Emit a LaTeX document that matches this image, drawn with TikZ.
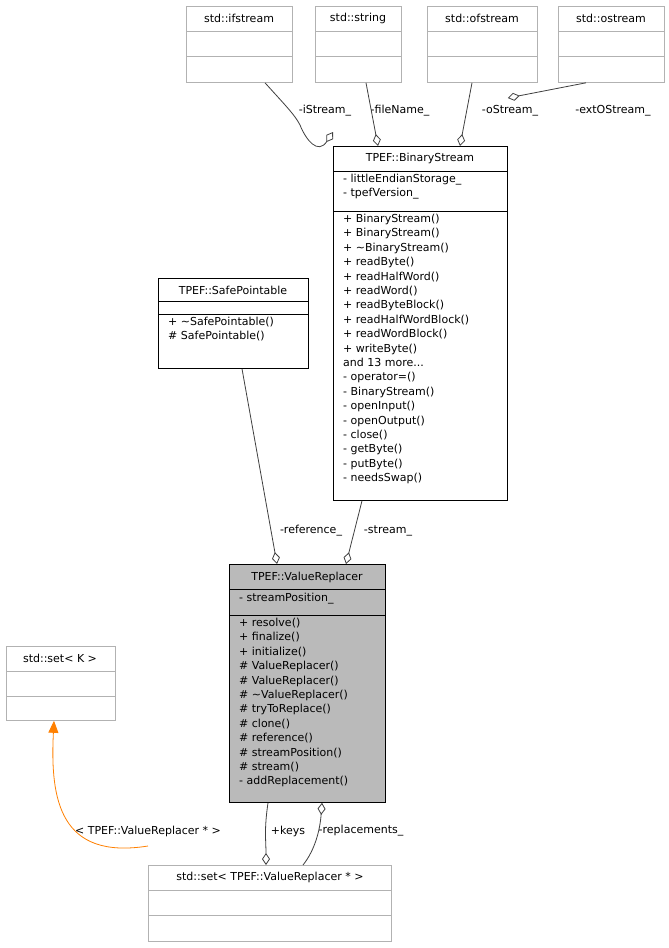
\documentclass[tikz,border=0pt]{standalone}
\usepackage{fontspec}
\setmainfont{DejaVu Sans}
\usetikzlibrary{arrows.meta}
\begin{document}
\begin{tikzpicture}[x=1pt,y=-1pt,
  box/.style={draw=#1,anchor=north west,inner sep=0,line width=0.8pt},
  txt/.style={anchor=north west,inner sep=0,align=left,font=\fontsize{11}{14.4}\selectfont,text depth=0pt},
  ttl/.style={anchor=center,inner sep=0,font=\fontsize{11}{14.4}\selectfont},
  edge/.style={draw=black!75,line width=0.8pt},
  lab/.style={font=\fontsize{11}{13}\selectfont,inner sep=1pt},
  dia/.style={-{Diamond[open,length=12pt,width=8pt,line width=0.8pt]}}]
\useasboundingbox[fill=white] (0,0) rectangle (669,948);
% std boxes top
\foreach \n/\x/\w/\t in {ifs/186/106/std::ifstream, str/315/86/std::string, ofs/427/110/std::ofstream, ost/558/106/std::ostream}{
  \node[box=black!30,minimum width=\w pt,minimum height=76pt] (\n) at (\x,6) {};
  \draw[black!30,line width=0.8pt] (\x,31)--++(\w,0) (\x,56)--++(\w,0);
  \node[ttl] at (\x+\w/2,18) {\t};
}
% BinaryStream
\node[box=black,minimum width=174pt,minimum height=354pt] (bs) at (333,146) {};
\draw[line width=0.8pt] (333,171)--(507,171) (333,211)--(507,211);
\node[ttl] at (420,158) {TPEF::BinaryStream};
\node[txt] at (343,174) {- littleEndianStorage\_\\- tpefVersion\_};
\node[txt] at (343,214) {+ BinaryStream()\\+ BinaryStream()\\+ \textasciitilde BinaryStream()\\+ readByte()\\+ readHalfWord()\\+ readWord()\\+ readByteBlock()\\+ readHalfWordBlock()\\+ readWordBlock()\\+ writeByte()\\and 13 more...\\- operator=()\\- BinaryStream()\\- openInput()\\- openOutput()\\- close()\\- getByte()\\- putByte()\\- needsSwap()};
% SafePointable
\node[box=black,minimum width=150pt,minimum height=90pt] (sp) at (158,278) {};
\draw[line width=0.8pt] (158,301)--(308,301) (158,314)--(308,314);
\node[ttl] at (233,290) {TPEF::SafePointable};
\node[txt] at (168,317) {+ \textasciitilde SafePointable()\\\# SafePointable()};
% ValueReplacer
\node[box=black,fill=black!27,minimum width=156pt,minimum height=238pt] (vr) at (229,564) {};
\draw[line width=0.8pt] (229,589)--(385,589) (229,615)--(385,615);
\node[ttl] at (307,577) {TPEF::ValueReplacer};
\node[txt] at (239,593) {- streamPosition\_};
\node[txt] at (239,618) {+ resolve()\\+ finalize()\\+ initialize()\\\# ValueReplacer()\\\# ValueReplacer()\\\# \textasciitilde ValueReplacer()\\\# tryToReplace()\\\# clone()\\\# reference()\\\# streamPosition()\\\# stream()\\- addReplacement()};
% set<K>
\node[box=black!30,minimum width=109pt,minimum height=74pt] (sk) at (6,646) {};
\draw[black!30,line width=0.8pt] (6,671)--(115,671) (6,696)--(115,696);
\node[ttl] at (60,658) {std::set< K >};
% set<VR*>
\node[box=black!30,minimum width=243pt,minimum height=76pt] (sv) at (148,865) {};
\draw[black!30,line width=0.8pt] (148,890)--(391,890) (148,915)--(391,915);
\node[ttl] at (270,877) {std::set< TPEF::ValueReplacer * >};
% edges
\draw[edge,dia] ([xshift=79pt]ifs.south west) .. controls (285,105) and (295,115) .. (300,125) .. controls (306,140) and (318,155) .. ([yshift=14pt]bs.north west);
\node[lab] at (325,111) {-iStream\_};
\draw[edge,dia] ([xshift=51pt]str.south west) -- ([xshift=45pt]bs.north west);
\node[lab] at (400,111) {-fileName\_};
\draw[edge,dia] ([xshift=45pt]ofs.south west) -- ([xshift=127pt]bs.north west);
\node[lab] at (510,111) {-oStream\_};
\draw[edge,dia] ([xshift=28pt]ost.south west) -- ([yshift=48pt]bs.north east);
\node[lab] at (613,111) {-extOStream\_};
\draw[edge,dia] ([xshift=84pt]sp.south west) -- ([xshift=48pt]vr.north west);
\node[lab] at (311,531) {-reference\_};
\draw[edge,dia] ([xshift=29pt]bs.south west) -- ([xshift=117pt]vr.north west);
\node[lab] at (388,531) {-stream\_};
\draw[edge,dia] ([xshift=39pt]vr.south west) .. controls (264,830) and (266,840) .. ([xshift=118pt]sv.north west);
\node[lab] at (288,831) {+keys};
\draw[edge,dia] ([xshift=155pt]sv.north west) .. controls (315,850) and (320,830) .. ([xshift=93pt]vr.south west);
\node[lab] at (361,831) {-replacements\_};
\draw[draw=orange,line width=0.8pt,-{Triangle[length=12pt,width=10pt,fill=orange]}] ([yshift=19pt]sv.north west) .. controls (60,860) and (50,800) .. ([xshift=48pt]sk.south west);
\node[lab] at (148,831) {< TPEF::ValueReplacer * >};
\end{tikzpicture}
\end{document}
